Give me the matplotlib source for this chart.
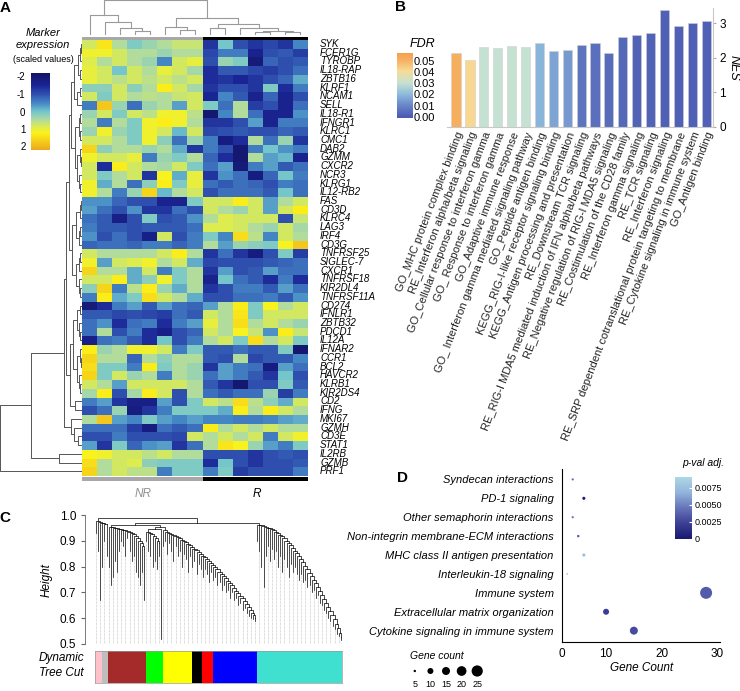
import numpy as np
import matplotlib.pyplot as plt
from matplotlib.colors import LinearSegmentedColormap

plt.rcParams['font.family'] = ['Liberation Sans', 'DejaVu Sans']

W, H = 740, 691
fig = plt.figure(figsize=(W / 100, H / 100), dpi=100)


def px_axes(x0, y0, x1, y1):
    return fig.add_axes([x0 / W, 1 - y1 / H, (x1 - x0) / W, (y1 - y0) / H])


def px_text(x, y, s, **kw):
    fig.text(x / W, 1 - y / H, s, **kw)


# ---------------- panel A data ----------------
genes = ['SYK', 'FCER1G', 'TYROBP', 'IL18-RAP', 'ZBTB16', 'KLRF1', 'NCAM1', 'SELL',
         'IL18-R1', 'IFNGR1', 'KLRC1', 'CMC1', 'DAB2', 'GZMM', 'CXCR2', 'NCR3', 'KLRG1',
         'IL12-RB2', 'FAS', 'CD3D', 'KLRC4', 'LAG3', 'IRF4', 'CD3G', 'TNFRSF25',
         'SIGLEC-7', 'CXCR1', 'TNFRSF18', 'KIR2DL4', 'TNFRSF11A', 'CD274', 'IFNLR1',
         'ZBTB32', 'PDCD1', 'IL12A', 'IFNAR2', 'CCR1', 'BCL2', 'HAVCR2', 'KLRB1',
         'KIR2DS4', 'CD2', 'IFNG', 'MKI67', 'GZMH', 'CD3E', 'STAT1', 'IL2RB', 'GZMB', 'PRF1']
n_nr, n_r = 8, 7
expr = [
    [0.8, 1.4, 0.5, 0.1, 0.3, 0.5, 0.7, 0.7, -1.3, 0.0, -1.0, -1.3, -1.1, -1.3, -0.5],
    [1.1, 1.1, 0.8, 0.5, 0.5, 0.3, 0.5, 0.5, -1.1, -0.6, -0.6, -1.6, -1.0, -0.9, -1.2],
    [0.9, 0.5, 0.8, 0.5, 0.3, -0.5, 0.8, 1.0, -1.0, 0.3, 0.1, -1.9, -0.8, -1.0, -0.9],
    [1.0, 0.8, 0.0, 0.8, 0.5, 1.0, 0.8, 0.4, -1.4, -0.9, -0.9, -1.1, -1.2, -1.0, -0.7],
    [1.0, 0.8, 0.6, 0.8, 0.6, 0.8, 0.6, 0.8, -1.4, -1.3, -1.5, -1.3, -1.0, -0.8, -0.2],
    [0.2, 0.2, 0.8, 0.2, 0.5, 1.3, 0.8, 0.4, -1.3, -1.0, -1.0, -1.3, 0.1, -1.4, -0.6],
    [0.8, 0.1, 0.8, 0.5, 0.6, 0.5, 0.7, 0.8, -1.5, -0.5, -0.9, -1.6, -0.8, -1.6, -1.0],
    [-0.6, 1.8, 0.3, -0.7, 0.3, 0.5, -0.3, 0.8, 0.1, -0.7, 0.5, -1.2, -1.0, -1.6, -0.7],
    [0.3, 0.8, 0.1, 0.8, 0.6, 1.1, 1.1, 0.6, -2.0, -0.5, 0.5, -0.7, -1.6, -1.6, -0.4],
    [0.5, -0.6, 0.5, 0.1, 1.1, 1.3, 1.1, 0.5, -1.3, -1.3, -1.0, -0.3, -1.6, -0.6, -0.6],
    [0.3, 1.1, 0.3, 0.1, 1.1, 0.8, -0.1, 0.8, -1.1, -1.0, -0.9, -1.0, -1.0, -0.8, -0.9],
    [0.8, 0.8, 0.5, 0.1, 1.1, 0.2, -0.7, 0.3, -0.6, -1.8, -1.4, 0.5, -0.7, 0.3, -1.3],
    [1.6, 0.2, 0.5, 0.5, 0.3, 0.5, -0.2, -1.3, -0.6, -1.0, -2.0, -0.6, 0.0, -0.4, -0.6],
    [1.1, 0.8, 0.8, 1.0, -0.6, 0.3, 0.1, 0.5, -0.8, -1.4, -2.0, 0.5, -0.3, -0.1, -1.6],
    [0.8, -1.4, 1.3, 0.8, 0.5, 0.4, 0.8, 0.1, -0.7, -0.3, -1.9, -0.6, -0.3, -0.9, -0.7],
    [0.8, 0.1, 0.5, 0.8, -1.3, 1.2, -0.2, 1.0, -1.3, -0.4, -0.7, -1.8, -0.8, 0.0, -0.6],
    [1.1, -0.2, 0.5, -0.7, 0.2, 1.3, 0.1, 1.0, -0.7, -0.9, -0.7, -0.8, -1.0, -0.6, -0.7],
    [1.1, 0.5, -0.6, 0.3, 1.6, -0.1, 0.5, 0.8, -1.0, -0.7, -0.7, -0.7, -0.9, 0.0, -0.7],
    [-0.4, -0.4, -0.8, -1.0, -1.0, -1.6, -1.6, 0.1, 0.8, 0.8, 1.3, 0.8, -0.3, 0.5, 0.8],
    [-0.3, -0.7, -1.0, -0.4, -1.3, -1.3, -0.7, -1.0, 0.8, 0.5, 0.3, 0.8, -0.3, 0.8, 1.3],
    [-0.7, -0.9, -1.7, -1.0, 0.1, -1.0, -0.9, -0.4, 0.5, 0.9, 0.8, 0.8, 0.8, -1.0, 0.7],
    [-0.6, -0.9, -0.9, -1.0, -0.9, -0.9, -0.9, -0.7, 0.9, 0.9, 0.8, 0.5, 0.3, 0.8, 0.4],
    [-0.4, -1.0, -0.7, -1.0, -1.7, 0.8, -1.0, -0.6, 0.1, -0.5, 1.5, 0.6, -0.5, 0.8, 0.5],
    [-0.8, -0.7, -0.7, -0.8, -0.6, -0.6, -0.8, -0.6, 0.5, -0.3, 0.3, 0.2, 0.1, 1.2, 1.8],
    [0.8, 0.5, 0.5, 0.5, 0.5, 0.8, 1.3, 0.5, -1.3, -0.7, -1.3, -1.8, -1.0, 0.1, -1.2],
    [1.1, -0.3, 0.8, 0.9, 1.1, 0.5, 0.8, -0.2, -1.1, -1.0, -1.0, -1.0, -0.9, -0.8, -0.7],
    [1.6, 0.5, 0.5, -0.2, 0.8, -0.6, 0.1, 0.5, -1.3, -0.3, -1.0, -0.9, -0.3, -0.7, -0.7],
    [0.8, 0.8, 1.3, -0.2, 0.2, 1.1, 0.1, 0.5, -1.6, 0.0, -0.7, -0.9, -1.4, -0.6, -1.4],
    [0.2, 1.6, -0.6, 0.6, 1.3, 0.3, -0.2, 0.5, -1.3, -1.0, -0.6, -0.6, -0.9, -0.3, -0.7],
    [-0.6, 1.3, -0.2, 0.1, 1.5, 0.8, 0.5, -0.2, -1.0, -1.0, -0.7, -0.7, -0.6, -0.9, -0.4],
    [-1.9, -1.4, -0.6, -0.3, -0.9, -0.3, -0.7, -0.8, -0.3, 0.5, 1.3, 0.1, 1.2, 0.5, 0.8],
    [-0.9, -0.9, -1.1, -1.0, -1.1, -1.2, -0.7, -0.9, 0.8, 0.5, 1.4, 0.1, 0.8, 0.8, 0.8],
    [-0.7, -0.4, -1.4, -0.7, -0.6, -1.4, -0.6, -0.3, 1.0, 0.5, 1.5, 0.5, 0.8, 0.5, 0.3],
    [-0.7, 0.5, -1.0, -0.6, -1.4, -1.7, -1.0, -0.8, 0.8, 0.5, 1.2, 0.7, -0.4, 1.3, 0.7],
    [-1.7, -0.7, -0.6, -0.9, -1.4, 0.0, -1.0, -0.6, 0.5, 0.8, 0.1, 1.5, 0.5, 0.8, 0.1],
    [1.3, 0.3, 0.5, 1.1, 1.1, 0.8, -0.6, 0.1, -0.9, -0.9, -0.7, -0.9, -0.9, 0.1, -2.0],
    [1.6, 0.5, 0.5, -0.8, 0.5, 0.2, 0.5, 0.5, -0.9, -1.0, 0.5, -1.1, -0.9, -0.9, -0.5],
    [1.5, 0.1, 0.1, -0.6, 1.3, 0.1, 0.5, 0.3, -1.3, -0.3, -0.6, -0.7, -1.8, -0.3, -0.7],
    [1.6, 0.1, 0.8, 0.3, 0.5, -0.6, 0.5, 0.3, -0.7, -0.3, -0.6, -0.9, -1.3, 0.0, -1.0],
    [0.8, 0.5, -0.3, 0.8, 0.8, 0.8, 0.8, 0.5, -0.9, -1.3, -2.0, -1.0, -1.0, 0.1, -0.9],
    [0.4, 1.3, -1.0, 0.4, 1.3, 0.8, -1.0, 0.5, -0.7, -0.9, -0.7, -0.7, 0.3, -1.2, -0.6],
    [-0.6, -0.3, -1.3, -1.7, -1.7, -0.3, -1.0, 0.1, 0.8, 0.6, 1.5, 0.6, 0.2, -0.2, 0.8],
    [-1.0, -0.7, 0.3, -1.8, -1.3, -0.6, 0.1, 0.1, 0.1, -0.2, 1.3, 0.5, 1.3, 0.8, 0.5],
    [0.5, 1.8, -0.3, -0.5, 0.1, -0.3, -0.5, -0.3, -0.5, -0.5, -0.6, -0.6, -0.5, -0.3, -0.2],
    [-0.7, -0.7, -0.7, -1.2, -1.8, -0.7, -0.9, -0.7, 1.3, 0.5, 0.8, 0.5, 0.8, 0.5, 0.5],
    [-1.0, -1.0, -0.6, -1.0, -1.0, -1.0, -1.1, 0.8, 0.5, 0.8, 0.5, 0.8, -0.6, 0.8, 1.1],
    [-0.3, -1.3, 0.1, -0.8, -0.4, -0.3, -1.3, -0.7, 0.5, 1.4, 1.2, 0.3, -0.3, -0.6, 0.1],
    [1.2, 1.1, 0.8, 0.8, 0.6, 0.8, 0.5, 0.5, -1.0, -1.0, -1.0, -1.3, -1.0, -0.9, -1.0],
    [1.5, 0.5, 0.8, 0.9, 0.2, 0.1, 0.1, 0.1, -1.4, 0.0, -1.0, -1.3, -1.0, -1.0, -0.9],
    [1.6, 0.5, 0.8, 0.6, 0.6, -0.6, 0.1, 0.1, -0.6, 0.1, -1.2, -1.0, -1.0, -1.0, -0.6],
]

# sample tree (columns) and gene tree (rows): (height, left, right), leaves = index
col_tree = (105, (60, 0, (40, 1, (20, 2, (12, 3, 4)))),
            (50, (25, 5, (15, 6, 7)),
             (33, (20, 8, 9), (20, 10, (12, (10, 11, 12), (8, 13, 14))))))
g1 = (1.0, (0.5, (0.3, (0.15, 0, 1), 2), (0.3, 3, 4)), (0.6, (0.3, 5, 6), 7))
g2 = (0.8, (0.4, (0.2, 8, 9), (0.25, 10, 11)),
      (0.6, (0.3, 12, (0.15, 13, 14)), (0.35, 15, (0.2, 16, 17))))
g3 = (0.7, (0.3, (0.15, 18, 19), 20), (0.35, (0.2, 21, 22), 23))
g4 = (0.7, (0.35, (0.2, 24, 25), 26), (0.4, 27, (0.2, 28, 29)))
g5 = (0.6, (0.3, 30, 31), (0.35, 32, (0.2, 33, 34)))
g6 = (0.6, (0.3, 35, (0.15, 36, 37)), (0.35, 38, (0.2, 39, 40)))
g7 = (0.9, 41, 42)
g8 = (1.3, 43, (1.0, 44, (0.5, 45, 46)))
row_tree = (10.0, (6.24, (2.24, (1.9, (1.6, (1.3, g1, g2), (1.2, g3, g4)),
                                   (1.5, (1.1, g5, g6), g7)), g8),
                   (2.86, 47, 48)), 49)

# ---------------- panel B data ----------------
gsea_terms = ['GO_MHC protein complex binding', 'RE_Interferon alpha/beta signaling',
              'GO_Cellular response to interferon gamma', 'GO_ Response to interferon gamma',
              'GO_Adaptive immune response', 'GO_ Interferon gamma mediated signaling pathway',
              'GO_Peptide antigen binding', 'KEGG_RIG-I-like receptor signaling binding',
              'KEGG_Antigen processing and presentation', 'RE_Downstream TCR signaling',
              'RE_RIG-I MDA5 mediated induction of IFN alpha/beta pathways',
              'RE_Negative regulation of RIG-I MDA5 signaling',
              'RE_Costimulation of the CD28 family', 'RE_Interferon gamma signaling',
              'RE_TCR signaling', 'RE_Interferon signaling',
              'RE_SRP dependent cotranslational protein targeting to membrane',
              'RE_Cytokine signaling in immune system', 'GO_Antigen binding']
nes = [2.14, 1.92, 2.32, 2.28, 2.33, 2.31, 2.42, 2.18, 2.23, 2.37, 2.42, 2.12, 2.61, 2.67,
       2.72, 3.37, 2.92, 3.01, 3.06]
fdr = [0.052, 0.042, 0.030, 0.030, 0.030, 0.030, 0.019, 0.016, 0.014, 0.006, 0.005, 0.004,
       0.003, 0.002, 0.002, 0.001, 0.001, 0.001, 0.001]

# ---------------- panel C data ----------------
module_colors = ['pink', 'grey', 'brown', 'green', 'yellow', 'black', 'red', 'blue', 'turquoise']
module_colors_hex = ['#ffc0cb', '#bebebe', '#a52a2a', '#00ff00', '#ffff00', '#000000',
                     '#ff0000', '#0000ff', '#40e0d0']
module_widths = [7, 6, 38, 17, 29, 10, 11, 44, 85]
# branches of the gene tree, left to right: (merge heights, leaf tip heights)
branch_pink = ([0.975, 0.972, 0.970, 0.968, 0.966, 0.965],
               [0.93, 0.86, 0.67, 0.80, 0.90, 0.84])
branch_brown = ([0.955, 0.952, 0.950, 0.948, 0.946, 0.944, 0.942, 0.940, 0.937, 0.934,
                 0.930, 0.925, 0.918, 0.910, 0.900, 0.890, 0.880, 0.870],
                [0.80, 0.73, 0.76, 0.82, 0.78, 0.86, 0.90, 0.88, 0.84, 0.91,
                 0.86, 0.82, 0.84, 0.78, 0.76, 0.73, 0.78, 0.67])
branch_green = ([0.935, 0.930, 0.925, 0.918, 0.910, 0.900, 0.890],
                [0.90, 0.86, 0.84, 0.80, 0.82, 0.79, 0.84])
branch_stem = ([0.52], [0.52])
branch_yellow_blue = ([0.940, 0.936, 0.932, 0.928, 0.924, 0.920, 0.915, 0.910, 0.905, 0.900,
                       0.895, 0.889, 0.883, 0.877, 0.870, 0.864, 0.857, 0.850, 0.843, 0.836,
                       0.829, 0.821, 0.813, 0.805, 0.797, 0.789, 0.780, 0.772, 0.763, 0.754,
                       0.745, 0.736, 0.727, 0.717, 0.707, 0.697, 0.687, 0.677, 0.666, 0.655,
                       0.644, 0.633, 0.622, 0.611, 0.600],
                      [0.88, 0.90, 0.85, 0.89, 0.86, 0.82, 0.88, 0.84, 0.86, 0.80,
                       0.85, 0.83, 0.78, 0.84, 0.80, 0.82, 0.77, 0.81, 0.79, 0.76,
                       0.79, 0.77, 0.74, 0.78, 0.75, 0.76, 0.73, 0.74, 0.71, 0.73,
                       0.70, 0.71, 0.68, 0.70, 0.67, 0.68, 0.65, 0.66, 0.63, 0.64,
                       0.62, 0.61, 0.60, 0.595, 0.59])
branch_turq = ([0.962, 0.960, 0.957, 0.954, 0.951, 0.948, 0.944, 0.940, 0.935, 0.930,
                0.924, 0.917, 0.909, 0.900, 0.891, 0.882, 0.872, 0.862, 0.851, 0.840,
                0.828, 0.816, 0.803, 0.790, 0.777, 0.763, 0.749, 0.735, 0.720, 0.705,
                0.690, 0.675, 0.659, 0.643, 0.627, 0.611, 0.595, 0.578, 0.561, 0.544, 0.527],
               [0.90, 0.86, 0.80, 0.72, 0.84, 0.88, 0.82, 0.87, 0.83, 0.86,
                0.80, 0.84, 0.78, 0.83, 0.80, 0.76, 0.81, 0.78, 0.80, 0.77,
                0.75, 0.77, 0.74, 0.75, 0.72, 0.73, 0.70, 0.71, 0.68, 0.69,
                0.66, 0.65, 0.63, 0.62, 0.60, 0.59, 0.57, 0.56, 0.54, 0.53, 0.515])
branches = [branch_pink, branch_brown, branch_green, branch_stem, branch_yellow_blue,
            branch_turq]
# how branches join: (height, left, right) with branch indices as leaves
branch_tree = (0.99, 0, (0.97, (0.962, 1, (0.952, (0.945, 2, 3), 4)), 5))

# ---------------- panel D data ----------------
pathways = ['Syndecan interactions', 'PD-1 signaling', 'Other semaphorin interactions',
            'Non-integrin membrane-ECM interactions', 'MHC class II antigen presentation',
            'Interleukin-18 signaling', 'Immune system', 'Extracellular matrix organization',
            'Cytokine signaling in immune system']
gene_count = [4, 6, 4, 5, 6, 3, 28, 10, 15]
p_adj = [0.0042, 0.0003, 0.0045, 0.0032, 0.0075, 0.009, 0.0035, 0.0022, 0.0028]
legend_counts = [5, 10, 15, 20, 25]


def draw_tree(ax, node, vertical=True, **kw):
    if isinstance(node, int):
        return node, 0.0
    h, a, b = node
    pa, ha = draw_tree(ax, a, vertical, **kw)
    pb, hb = draw_tree(ax, b, vertical, **kw)
    if vertical:
        ax.plot([pa, pa, pb, pb], [ha, h, h, hb], **kw)
    else:
        ax.plot([ha, h, h, hb], [pa, pa, pb, pb], **kw)
    return (pa + pb) / 2, h


# ================= A =================
expr_cmap = LinearSegmentedColormap.from_list('expr', [
    (0.00, '#141464'), (0.16, '#1a2596'), (0.27, '#2f4fae'), (0.39, '#4688c6'),
    (0.50, '#74c6cc'), (0.61, '#b0dba0'), (0.70, '#dcec52'), (0.78, '#fbf31a'),
    (1.00, '#eea91c')])

ax_hm = px_axes(82, 39.7, 308, 475.6)
ax_hm.imshow(np.array(expr), cmap=expr_cmap, vmin=-2.2, vmax=2.2, aspect='auto',
             interpolation='nearest')
ax_hm.set_axis_off()
for i, g in enumerate(genes):
    ax_hm.text(15.3, i, g, fontsize=7, style='italic', va='center', ha='left')

group_cols = ['#a8a8a8'] * n_nr + ['#000000'] * n_r
for y0, y1 in [(36.5, 39.7), (477, 480.5)]:
    axb = px_axes(82, y0, 308, y1)
    axb.bar(range(n_nr + n_r), [1] * (n_nr + n_r), width=1.0, color=group_cols)
    axb.set_xlim(-0.5, n_nr + n_r - 0.5)
    axb.set_ylim(0, 1)
    axb.set_axis_off()
px_text(143, 494, 'NR', fontsize=8.5, style='italic', color='#909090', ha='center', va='center')
px_text(257, 494, 'R', fontsize=8.5, style='italic', color='black', ha='center', va='center')

ax_top = px_axes(82, 0, 308, 35)
draw_tree(ax_top, col_tree, True, color='#9a9a9a', lw=0.8)
ax_top.set_xlim(-0.5, 14.5)
ax_top.set_ylim(0, 106)
ax_top.set_axis_off()

ax_left = px_axes(0, 39.7, 82, 475.6)
draw_tree(ax_left, row_tree, False, color='#555555', lw=0.7)
ax_left.set_xlim(10.05, 0)
ax_left.set_ylim(49.5, -0.5)
ax_left.set_axis_off()

ax_cb = px_axes(31, 73, 50, 150)
ax_cb.imshow(np.linspace(-2.2, 2.2, 200).reshape(-1, 1), cmap=expr_cmap, vmin=-2.2, vmax=2.2,
             aspect='auto', extent=(0, 1, 2.2, -2.2))
ax_cb.set_ylim(2.2, -2.2)
ax_cb.set_xticks([])
ax_cb.set_yticks([-2, -1, 0, 1, 2])
ax_cb.set_yticklabels(['-2', '-1', '0', '1', '2'])
ax_cb.tick_params(axis='y', length=0, labelsize=7, pad=4)
for s in ax_cb.spines.values():
    s.set_visible(False)
px_text(43, 33, 'Marker', fontsize=8, style='italic', ha='center', va='center')
px_text(43, 45, 'expression', fontsize=8, style='italic', ha='center', va='center')
px_text(43, 59, '(scaled values)', fontsize=6.5, ha='center', va='center')
px_text(5, 8, 'A', fontsize=11, fontweight='bold', ha='center', va='center')

# ================= B =================
fdr_cmap = LinearSegmentedColormap.from_list('fdr', [
    (0.0, '#4c5cb4'), (0.18, '#6a86c8'), (0.35, '#8dbadc'), (0.53, '#c6e2d2'),
    (0.72, '#f8dc96'), (0.88, '#f6b366'), (1.0, '#f5a04e')])
fdr_max = 0.057

ax_b = px_axes(447, 8, 713, 126.5)
ax_b.bar(range(len(nes)), nes, width=0.66, color=fdr_cmap(np.array(fdr) / fdr_max),
         edgecolor='#d0d0d0', linewidth=0.4)
ax_b.set_xlim(-0.65, 18.49)
ax_b.set_ylim(0, 3.44)
ax_b.yaxis.tick_right()
ax_b.set_yticks([0, 1, 2, 3])
ax_b.tick_params(axis='y', length=2.5, color='#aaaaaa', labelsize=8.5, pad=2)
ax_b.set_xticks(range(len(gsea_terms)))
ax_b.set_xticklabels(gsea_terms, rotation=69, ha='right', rotation_mode='anchor',
                     fontsize=8, color='#222222')
ax_b.tick_params(axis='x', length=0, pad=3)
for k in ['top', 'left']:
    ax_b.spines[k].set_visible(False)
for k in ['right', 'bottom']:
    ax_b.spines[k].set_color('#c8c8c8')
px_text(734, 68, 'NES', fontsize=9, style='italic', rotation=270, ha='center', va='center')

ax_fc = px_axes(397, 53, 412, 118)
ax_fc.imshow(np.linspace(fdr_max, -0.001, 200).reshape(-1, 1), cmap=fdr_cmap, vmin=0,
             vmax=fdr_max, aspect='auto', extent=(0, 1, -0.001, fdr_max))
ax_fc.set_ylim(-0.001, fdr_max)
ax_fc.yaxis.tick_right()
ax_fc.set_xticks([])
ax_fc.set_yticks([0, 0.01, 0.02, 0.03, 0.04, 0.05])
ax_fc.set_yticklabels(['0.00', '0.01', '0.02', '0.03', '0.04', '0.05'])
ax_fc.tick_params(axis='y', length=0, labelsize=8, pad=1)
for s in ax_fc.spines.values():
    s.set_visible(False)
px_text(422, 44, 'FDR', fontsize=9, style='italic', ha='center', va='center')
px_text(401, 7, 'B', fontsize=11, fontweight='bold', ha='center', va='center')

# ================= C =================
ax_c = px_axes(95, 515, 342, 644)
n_leaves = sum(len(b[1]) for b in branches)
total_w = sum(module_widths)
step = total_w / n_leaves
branch_tops = []
leaf = 0
for merges, tips in branches:
    xs = [(leaf + i + 0.5) * step for i in range(len(tips))]
    for i, (x, t) in enumerate(zip(xs, tips)):
        if (leaf + i) % 2 == 0:
            ax_c.plot([x, x], [0.5, t], color='#b8b8b8', lw=0.5, ls=(0, (1, 1)))
    leaf += len(tips)
    # chain from the right end of the branch
    xc, hc = xs[-1], merges[-1]
    ax_c.plot([xc, xc], [tips[-1], merges[-1]], color='black', lw=0.5)
    for i in range(len(tips) - 2, -1, -1):
        m = max(merges[i], hc)
        ax_c.plot([xs[i], xs[i], xc, xc], [tips[i], m, m, hc], color='black', lw=0.5)
        xc, hc = (xs[i] + xc) / 2, m
    branch_tops.append((xc, hc))


def draw_branch_tree(node):
    if isinstance(node, int):
        return branch_tops[node]
    h, a, b = node
    xa, ha = draw_branch_tree(a)
    xb, hb = draw_branch_tree(b)
    ax_c.plot([xa, xa, xb, xb], [ha, h, h, hb], color='black', lw=0.5)
    return (xa + xb) / 2, h


draw_branch_tree(branch_tree)
ax_c.set_xlim(0, total_w)
ax_c.set_ylim(0.5, 1.0)
ax_c.set_yticks([0.5, 0.6, 0.7, 0.8, 0.9, 1.0])
ax_c.set_xticks([])
ax_c.tick_params(axis='y', length=3, labelsize=8.5, color='#666666')
for k in ['top', 'right', 'bottom']:
    ax_c.spines[k].set_visible(False)
ax_c.spines['left'].set_position(('outward', 7))
ax_c.spines['left'].set_color('#666666')
ax_c.spines['left'].set_linewidth(0.6)
px_text(47, 580, 'Height', fontsize=8.5, style='italic', rotation=90, ha='center', va='center')

ax_mod = px_axes(95, 651, 342, 683)
ax_mod.barh([0] * len(module_widths), module_widths,
            left=np.cumsum([0] + module_widths[:-1]), height=1.0, color=module_colors_hex)
ax_mod.set_xlim(0, total_w)
ax_mod.set_ylim(-0.5, 0.5)
ax_mod.set_xticks([])
ax_mod.set_yticks([])
for s in ax_mod.spines.values():
    s.set_color('#999999')
    s.set_linewidth(0.5)
px_text(84, 658, 'Dynamic', fontsize=8.5, style='italic', ha='right', va='center')
px_text(84, 673, 'Tree Cut', fontsize=8.5, style='italic', ha='right', va='center')
px_text(5, 518, 'C', fontsize=11, fontweight='bold', ha='center', va='center')

# ================= D =================
p_cmap = LinearSegmentedColormap.from_list('padj', ['#191970', '#3d3f95', '#6675b8',
                                                    '#93b4dc', '#add8e6'])
p_max = 0.0091
size_px = np.interp(gene_count, [3, 5, 10, 15, 20, 25, 28], [2.0, 2.4, 6, 8, 9.7, 11.2, 12])
ax_d = px_axes(562, 469, 720, 642)
ax_d.scatter(gene_count, range(len(pathways)), s=(size_px / 1.389) ** 2, c=p_adj,
             cmap=p_cmap, vmin=0, vmax=p_max, edgecolors='none', zorder=3)
ax_d.set_xlim(2.07, 30.5)
ax_d.set_ylim(len(pathways) - 0.4, -0.55)
ax_d.set_yticks(range(len(pathways)))
ax_d.set_yticklabels(pathways, fontsize=8, style='italic')
ax_d.tick_params(axis='y', length=0, pad=6)
ax_d.set_xticks([10, 20, 30])
ax_d.tick_params(axis='x', length=0, labelsize=8.5, pad=4)
for k in ['top', 'right']:
    ax_d.spines[k].set_visible(False)
px_text(562, 654, '0', fontsize=8.5, ha='center', va='center')
px_text(642, 668, 'Gene Count', fontsize=8.5, style='italic', ha='center', va='center')
px_text(403, 478, 'D', fontsize=11, fontweight='bold', ha='center', va='center')

ax_pc = px_axes(675, 477, 692, 540)
ax_pc.imshow(np.linspace(p_max, 0, 200).reshape(-1, 1), cmap=p_cmap, vmin=0, vmax=p_max,
             aspect='auto', extent=(0, 1, 0, p_max))
ax_pc.set_ylim(-0.0002, p_max)
ax_pc.yaxis.tick_right()
ax_pc.set_xticks([])
ax_pc.set_yticks([0, 0.0025, 0.005, 0.0075])
ax_pc.set_yticklabels(['0', '0.0025', '0.0050', '0.0075'])
ax_pc.tick_params(axis='y', length=2, color='white', direction='in', labelsize=6.5, pad=2)
for s in ax_pc.spines.values():
    s.set_visible(False)
px_text(703, 463, 'p-val adj.', fontsize=7.5, style='italic', ha='center', va='center')

ax_sl = px_axes(407, 664, 485, 678)
leg_px = np.interp(legend_counts, [3, 5, 10, 15, 20, 25, 28], [2.0, 2.4, 6, 8, 9.7, 11.2, 12])
ax_sl.scatter(range(len(legend_counts)), [0] * len(legend_counts), s=(leg_px / 1.389) ** 2,
              color='black', edgecolors='none')
ax_sl.set_xlim(-0.5, len(legend_counts) - 0.5)
ax_sl.set_ylim(-1, 1)
ax_sl.set_axis_off()
for i, c in enumerate(legend_counts):
    px_text(415.3 + i * 15.5, 684.5, str(c), fontsize=6.5, ha='center', va='center')
px_text(437, 656, 'Gene count', fontsize=7.5, style='italic', ha='center', va='center')

fig.savefig('out.png', dpi=100)
